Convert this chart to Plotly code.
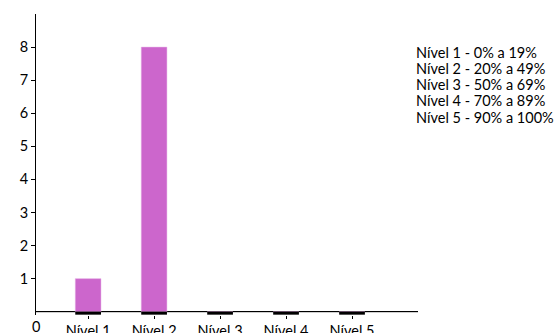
import plotly.graph_objects as go

categories = ["Nível 1", "Nível 2", "Nível 3", "Nível 4", "Nível 5"]
values = [1, 8, 0, 0, 0]
y_ticks = [1, 2, 3, 4, 5, 6, 7, 8]
legend_lines = ["Nível 1 - 0% a 19%", "Nível 2 - 20% a 49%", "Nível 3 - 50% a 69%",
                "Nível 4 - 70% a 89%", "Nível 5 - 90% a 100%"]

FONT = "Lato"
FS = 14.5
fig = go.Figure()
fig.add_trace(go.Bar(x=categories, y=values, width=0.39,
                     marker=dict(color="#CC66CC", line=dict(color="#e8b8e8", width=0.5))))
# baseline markers under each category
fig.add_trace(go.Bar(x=categories, y=[0.09] * len(categories), base=[-0.09] * len(categories),
                     width=0.39, marker=dict(color="black", line=dict(width=0))))

fig.update_layout(
    width=558, height=333, barmode="overlay", showlegend=False,
    plot_bgcolor="white", paper_bgcolor="white",
    margin=dict(l=36, r=140, t=14, b=18, autoexpand=False),
    font=dict(family=FONT, size=FS, color="black"),
    xaxis=dict(range=[-0.79, 5.0], showline=False, ticks="outside", ticklen=3,
               tickcolor="black", showgrid=False, automargin=False),
    yaxis=dict(range=[-0.1, 9], tickvals=y_ticks, showline=True, linecolor="black",
               linewidth=1, ticks="outside", ticklen=4, tickcolor="black", automargin=False,
               showgrid=False, zeroline=True, zerolinecolor="black", zerolinewidth=1),
)
fig.add_shape(type="line", xref="paper", yref="y", x0=0, x1=1, y0=0, y1=0,
              line=dict(color="black", width=1), layer="below")
fig.add_annotation(text="0", xref="paper", yref="paper", x=0, y=0, yanchor="top",
                   xanchor="center", showarrow=False, yshift=-1, font=dict(size=FS))
for i, line in enumerate(legend_lines):
    fig.add_annotation(text=line, xref="paper", yref="paper",
                       x=1.0, y=(333 - 18 - 52 - i * 16.3) / (333 - 32), xanchor="left",
                       yanchor="middle", align="left", showarrow=False, xshift=-4,
                       font=dict(size=FS))
fig.write_html("out.html", config={"displayModeBar": False},
               post_script="document.body.style.margin='0';")
